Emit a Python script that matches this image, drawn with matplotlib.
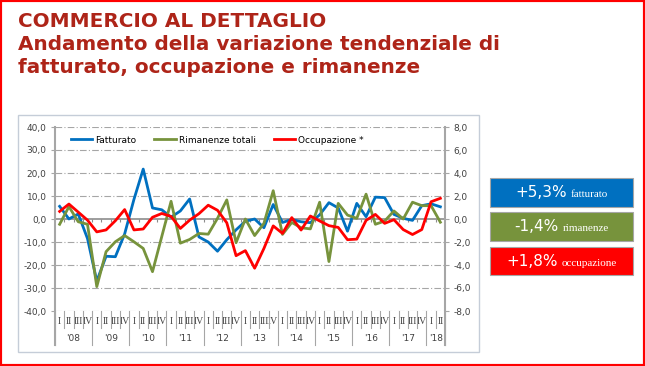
import numpy as np
import matplotlib
matplotlib.use("Agg")
import matplotlib.pyplot as plt
from matplotlib.patches import Rectangle
from matplotlib.ticker import FuncFormatter
from matplotlib.transforms import blended_transform_factory
from matplotlib.offsetbox import TextArea, HPacker, AnnotationBbox

# data (quarterly, 2008 I .. 2018 II)
years = ["'08", "'09", "'10", "'11", "'12", "'13", "'14", "'15", "'16", "'17", "'18"]
quarters = ["I", "II", "III", "IV"] * 10 + ["I", "II"]

fatturato = [5.5, 0.0, 2.2, -8.5, -27.0, -16.2, -16.4, -6.5, 8.5, 21.7,
             4.8, 4.0, 0.8, 3.5, 8.7, -7.8, -10.0, -14.0, -9.0, -4.7,
             -1.0, 0.0, -3.8, 6.3, -1.5, -0.2, -1.2, -1.6, 1.8, 7.1,
             4.8, -5.3, 6.8, 1.0, 9.5, 9.3, 2.0, 0.3, -0.6, 5.8,
             6.6, 5.3]
rimanenze = [-2.3, 5.4, -1.2, -2.3, -29.4, -14.2, -9.9, -7.2, -9.9, -12.8,
             -22.9, -7.6, 7.7, -10.5, -8.9, -6.3, -6.6, 0.3, 8.3, -10.3,
             0.0, -7.2, -1.9, 12.3, -6.7, -1.5, -3.8, -4.3, 7.3, -18.5,
             6.8, 1.7, 0.3, 10.8, -2.3, -0.9, 3.5, 0.0, 7.3, 5.8,
             5.8, -1.4]
occupazione = [0.66, 1.3, 0.6, -0.1, -1.12, -0.95, -0.15, 0.82, -0.95, -0.87,
               0.15, 0.48, 0.22, -0.82, -0.1, 0.46, 1.2, 0.76, -0.33, -3.19,
               -2.75, -4.28, -2.56, -0.6, -1.25, 0.12, -0.96, 0.26, -0.17, -0.58,
               -0.73, -1.8, -1.75, -0.12, 0.4, -0.38, -0.06, -0.92, -1.35, -0.92,
               1.5, 1.8]

BLUE = "#0070C0"
GREEN = "#77933C"
RED = "#FF0000"
TITLE = "#AE2418"
GRAY = "#A6A6A6"

W, H = 645, 366
fig = plt.figure(figsize=(W / 100, H / 100), dpi=100)

# outer red frame and the light chart frame
fig.patches.append(Rectangle((0, 0), 1, 1, transform=fig.transFigure,
                             fill=False, edgecolor=RED, lw=3))
fig.patches.append(Rectangle((18 / W, 1 - 352 / H), 461 / W, 237 / H,
                             transform=fig.transFigure, fill=False,
                             edgecolor="#C5CDD8", lw=1))

# titles
for txt, base in [("COMMERCIO AL DETTAGLIO", 27),
                  ("Andamento della variazione tendenziale di", 50),
                  ("fatturato, occupazione e rimanenze", 73)]:
    fig.text(18 / W, 1 - base / H, txt, fontsize=14.4, fontweight="bold",
             color=TITLE, va="baseline")

ax = fig.add_axes([55 / W, 1 - 311 / H, 390 / W, 184 / H])
x = np.arange(len(quarters))

l1, = ax.plot(x, fatturato, color=BLUE, lw=2, label="Fatturato")
l2, = ax.plot(x, rimanenze, color=GREEN, lw=2, label="Rimanenze totali")
ax2 = ax.twinx()
l3, = ax2.plot(x, occupazione, color=RED, lw=2, label="Occupazione *")

ax.set_xlim(-0.5, len(x) - 0.5)
ax.set_ylim(-40, 40)
ax2.set_ylim(-8, 8)
ax.set_yticks(np.arange(-40, 41, 10))
ax2.set_yticks(np.arange(-8, 9, 2))
fmt = FuncFormatter(lambda v, p: f"{v:.1f}".replace(".", ","))
ax.yaxis.set_major_formatter(fmt)
ax2.yaxis.set_major_formatter(fmt)

for a in (ax, ax2):
    for s in a.spines.values():
        s.set_visible(False)
    a.tick_params(axis="y", length=3, width=0.8, color=GRAY, labelsize=6.5,
                  labelcolor="#404040", pad=3)

# grid: dash-dot lines, solid zero line
for v in ax.get_yticks():
    if v != 0:
        ax.axhline(v, color=GRAY, lw=0.8, ls=(0, (6, 2, 1, 2)), zorder=0)
ax.axhline(0, color="#8C8C8C", lw=1.2, zorder=1)
ax.vlines(x[:-1] + 0.5, -1.2, 0, color="#8C8C8C", lw=0.8, zorder=1)

# quarter labels and multi-level category separators
ax.set_xticks(x)
ax.set_xticklabels(quarters, fontfamily="Liberation Serif", fontsize=7,
                   color="#404040")
ax.tick_params(axis="x", length=0, pad=4)
trans = blended_transform_factory(ax.transData, ax.transAxes)
for b in np.arange(-0.5, len(x), 1.0):
    low = -0.185 if (b + 0.5) % 4 == 0 or b == len(x) - 0.5 else -0.092
    ax.plot([b, b], [0, low], transform=trans, color=GRAY, lw=0.8,
            clip_on=False)
for side in (0, 1):
    ax.plot([side, side], [-0.185, 1], transform=ax.transAxes, color=GRAY,
            lw=1.5, clip_on=False)
for k, yr in enumerate(years):
    start = 4 * k
    end = min(4 * k + 3, len(x) - 1)
    ax.text((start + end) / 2, -0.147, yr, transform=trans, ha="center",
            va="center", fontsize=6.5, color="#404040")

ax2.legend([l1, l2, l3], [l1.get_label(), l2.get_label(), l3.get_label()],
           loc="center left", bbox_to_anchor=(0.04, 0.929), ncol=3,
           frameon=False, fontsize=6.5, handlelength=2.4, handletextpad=0.3,
           columnspacing=2.0, borderaxespad=0, borderpad=0)

# summary boxes on the right
def pct(v):
    return f"{v:+.1f}".replace(".", ",") + "%"

boxes = [(fatturato[-1], "fatturato", BLUE, 178, 207),
         (rimanenze[-1], "rimanenze", GREEN, 212, 241),
         (occupazione[-1], "occupazione", RED, 247, 275)]
for val, word, col, top, bot in boxes:
    fig.patches.append(Rectangle((490 / W, 1 - bot / H), 143 / W, (bot - top) / H,
                                 transform=fig.transFigure, facecolor=col,
                                 edgecolor=GRAY, lw=0.8))
    big = TextArea(pct(val), textprops=dict(color="white", fontsize=11))
    small = TextArea(word, textprops=dict(color="white", fontsize=8,
                                          fontfamily="Liberation Serif"))
    pack = HPacker(children=[big, small], align="baseline", pad=0, sep=3)
    ab = AnnotationBbox(pack, (561.5 / W, 1 - (top + bot) / 2 / H),
                        xycoords="figure fraction", frameon=False,
                        box_alignment=(0.5, 0.5))
    fig.add_artist(ab)

fig.savefig("out.png", dpi=100)
